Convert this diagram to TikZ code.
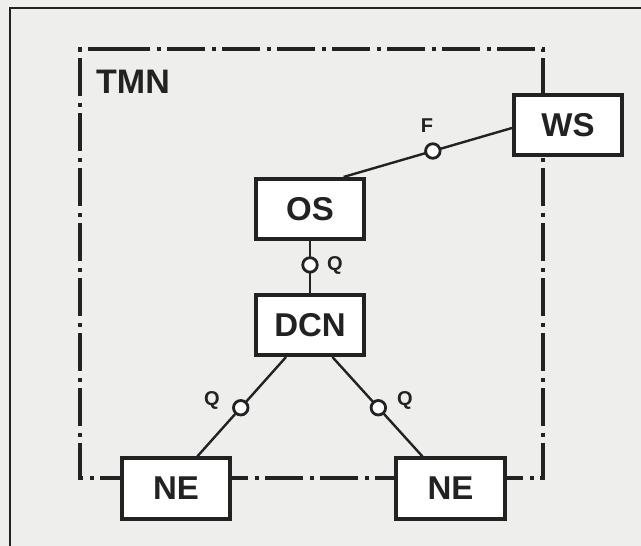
\documentclass[tikz,border=0pt]{standalone}
\usepackage{fontspec}
\setmainfont{Liberation Sans}
\usetikzlibrary{calc}
\definecolor{ink}{RGB}{34,34,34}
\definecolor{paper}{RGB}{238,238,236}
\tikzset{
  box/.style={draw=ink, fill=white, line width=3.6pt, minimum width=108.5pt, minimum height=60.5pt, inner sep=0pt, text=ink, font=\bfseries\fontsize{33}{33}\selectfont},
  conn/.style={draw=ink, line width=2.4pt},
  port/.style={circle, draw=ink, fill=white, line width=2.8pt, minimum size=14.5pt, inner sep=0pt},
  lbl/.style={text=ink, inner sep=0pt, font=\bfseries\fontsize{20}{20}\selectfont},
  frame/.style={draw=ink, line width=2.2pt},
  tmn/.style={draw=ink, line width=4pt, dash pattern=on 38pt off 6.5pt on 4pt off 6.5pt}
}
\begin{document}
\begin{tikzpicture}[x=1pt,y=-1pt]
\fill[paper] (0,0) rectangle (641,546);
\useasboundingbox (0,0) rectangle (641,546);
% outer frame
\draw[frame] (10,548) -- (10,8) -- (643,8);
% TMN boundary
\draw[tmn] (112,49) -- (543,49) -- (543,478) -- (80,478) -- (80,49) -- cycle;
\node[text=ink, inner sep=0pt, anchor=base west, font=\bfseries\fontsize{34}{34}\selectfont] (tmnlbl) at (96,93) {TMN};
% boxes
\node[box] (ws) at (568,125) {WS};
\node[box] (os) at (310,209) {OS};
\node[box] (dcn) at (310,325) {DCN};
\node[box] (ne1) at (176,488.5) {NE};
\node[box] (ne2) at (450.5,488.5) {NE};
% connectors
\coordinate (osA) at ($(os.north west)!0.8!(os.north east)$);
\coordinate (wsA) at ($(ws.west)+(0,3)$);
\coordinate (dcnL) at ($(dcn.south west)!0.286!(dcn.south east)$);
\coordinate (dcnR) at ($(dcn.south west)!0.70!(dcn.south east)$);
\coordinate (ne1A) at ($(ne1.north west)!0.69!(ne1.north east)$);
\coordinate (ne2A) at ($(ne2.north west)!0.25!(ne2.north east)$);
\draw[conn] (osA) -- node[port, pos=0.53] (pF) {} (wsA);
\draw[conn] (os.south) -- node[port, pos=0.46] (pQ1) {} (dcn.north);
\draw[conn] (dcnL) -- node[port, pos=0.51] (pQ2) {} (ne1A);
\draw[conn] (dcnR) -- node[port, pos=0.51] (pQ3) {} (ne2A);
% labels
\node[lbl] (lF) at (427,126) {F};
\node[lbl] (lQ1) at (335,265) {Q};
\node[lbl] (lQ2) at (212,400) {Q};
\node[lbl] (lQ3) at (405,400) {Q};
\end{tikzpicture}
\end{document}
